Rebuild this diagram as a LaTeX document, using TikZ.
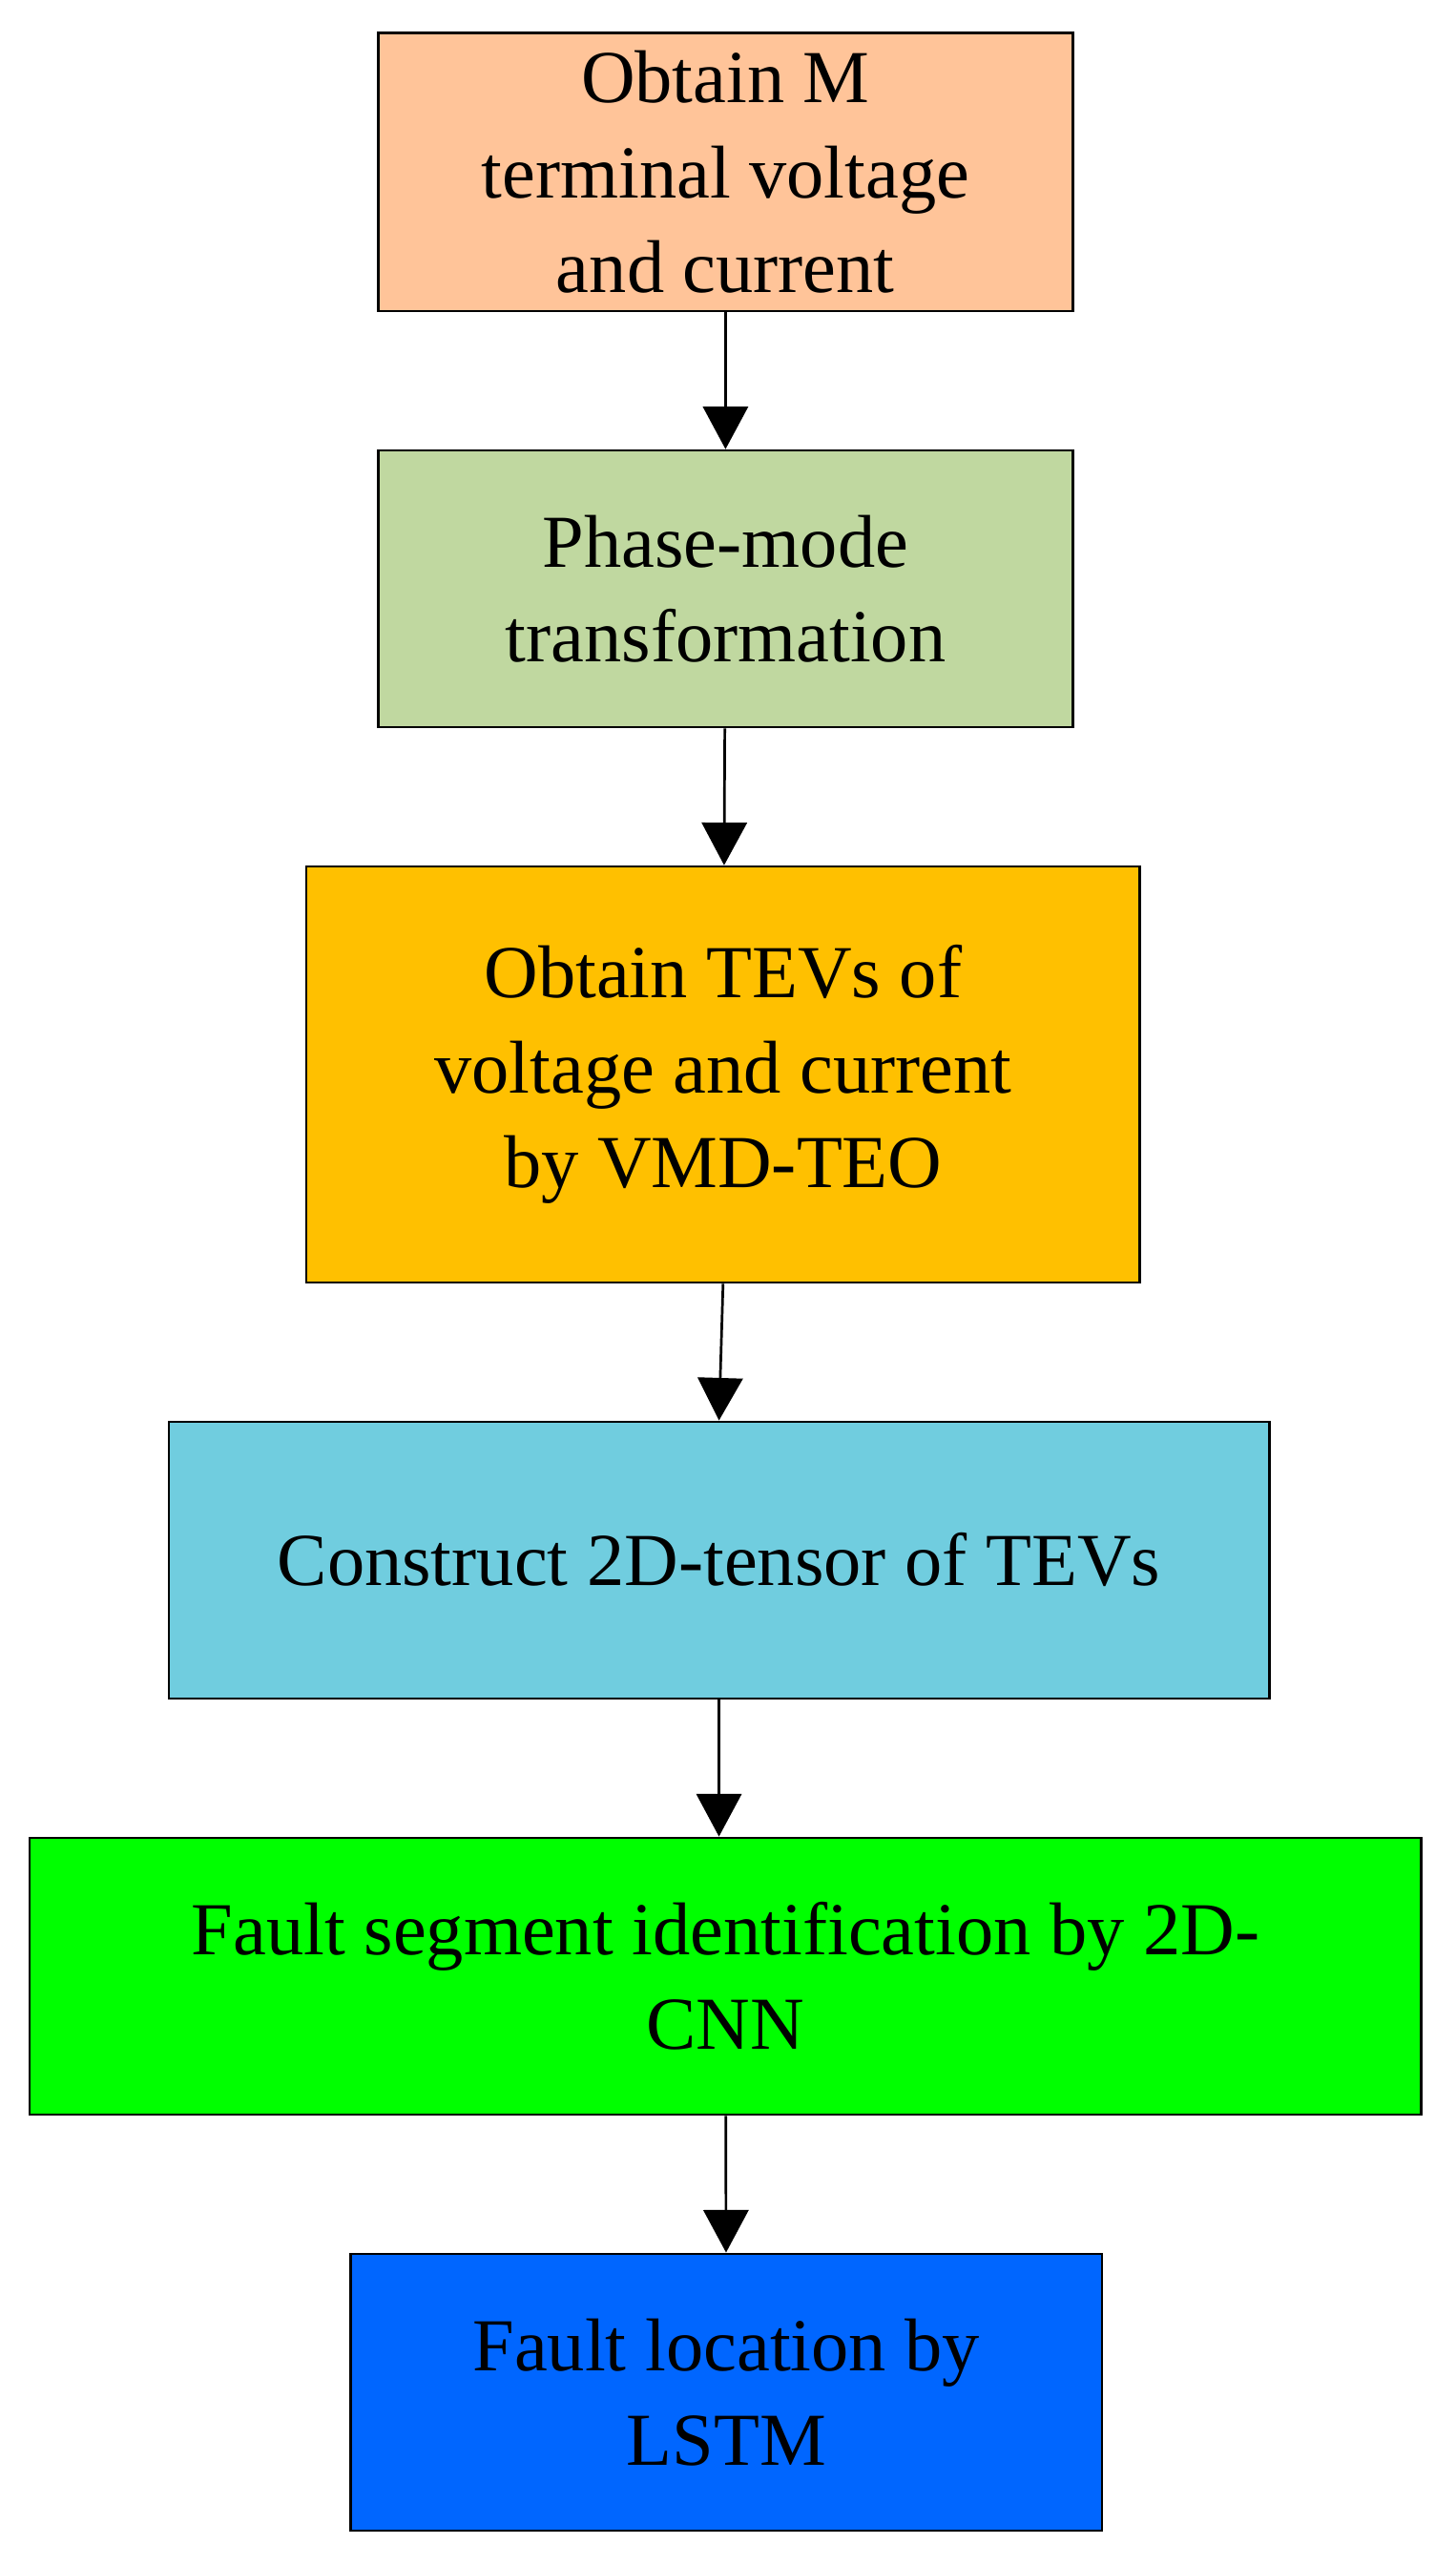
\documentclass[tikz,border=0pt]{standalone}
\usepackage{fontspec}
\setmainfont{Liberation Serif}
\usetikzlibrary{arrows.meta}
\begin{document}
\begin{tikzpicture}[x=0.02cm,y=-0.02cm,
 box/.style={draw,line width=0.9pt,align=center,font=\fontsize{26}{33}\selectfont,inner sep=0pt},
 arr/.style={-{Triangle[length=0.52cm,width=0.55cm]},line width=0.9pt}]
\fill[white] (0,0) rectangle (889,1566);
\useasboundingbox (0,0) rectangle (889,1566);
\definecolor{c1}{HTML}{FFC499}\definecolor{c2}{HTML}{C0D8A0}\definecolor{c3}{HTML}{FFC000}
\definecolor{c4}{HTML}{70CDDF}\definecolor{c5}{HTML}{00FF00}\definecolor{c6}{HTML}{0066FF}
\node[box,fill=c1,minimum width=8.48cm,minimum height=3.4cm] (a) at (443,105) {Obtain M\\terminal voltage\\and current};
\node[box,fill=c2,minimum width=8.48cm,minimum height=3.38cm] (b) at (443,359.5) {Phase-mode\\transformation};
\node[box,fill=c3,minimum width=10.18cm,minimum height=5.08cm] (c) at (441.5,656) {Obtain TEVs of\\voltage and current\\by VMD-TEO};
\node[box,fill=c4,minimum width=13.44cm,minimum height=3.38cm] (d) at (439,952.5) {Construct 2D-tensor of TEVs};
\node[box,fill=c5,minimum width=17cm,minimum height=3.38cm] (e) at (443,1206.5) {Fault segment identification by 2D-\\CNN};
\node[box,fill=c6,minimum width=9.18cm,minimum height=3.38cm] (f) at (443.5,1460.5) {Fault location by\\LSTM};
\draw[arr] (a) -- (b);
\draw[arr] (b) -- (c);
\draw[arr] (c.south) -- (d.north);
\draw[arr] (d) -- (d|-e.north);
\draw[arr] (e) -- (f);
\end{tikzpicture}
\end{document}
